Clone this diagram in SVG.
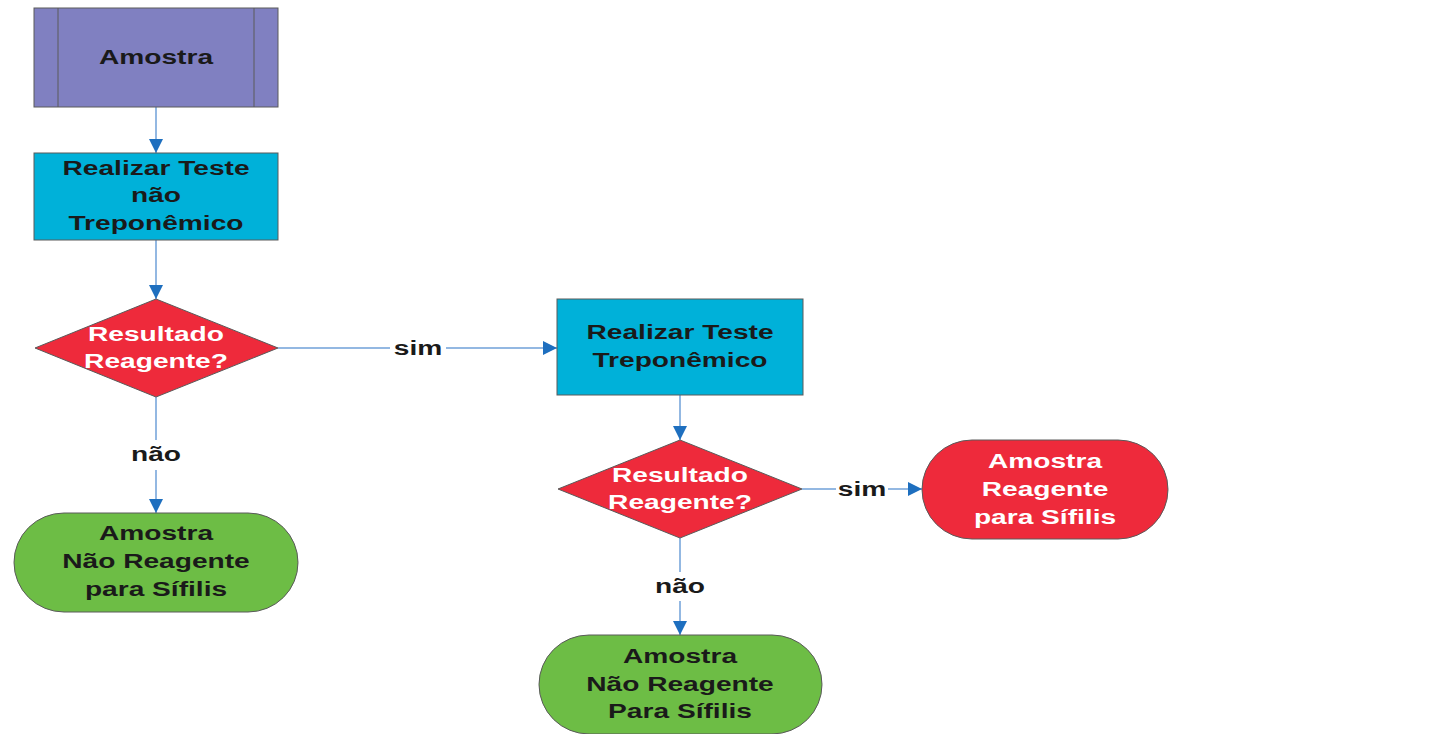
<svg xmlns="http://www.w3.org/2000/svg" width="1456" height="734" viewBox="0 0 1456 734">
  <style>
    .lbl { font-family: "Liberation Sans", Arial, sans-serif; font-weight: bold; font-size: 21px; text-anchor: middle; fill: #1a1a1a; }
    .wht { fill: #ffffff; }
    .edge { fill: none; stroke: #6fa0d8; stroke-width: 1.5; }
    .border { stroke: #5a5a5a; stroke-width: 1; }
    .proc { fill: #00b1d9; }
    .dec { fill: #ee2a3b; }
    .ok { fill: #6dbd45; }
    .bad { fill: #ee2a3b; }
  </style>
  <defs>
    <marker id="arrow" viewBox="0 0 14 14" refX="14" refY="7" markerWidth="14" markerHeight="14" markerUnits="userSpaceOnUse" orient="auto">
      <path d="M0,0 L14,7 L0,14 Z" fill="#1e6fbf"/>
    </marker>
  </defs>
  <rect width="1456" height="734" fill="#ffffff"/>

  <!-- connectors -->
  <g id="connectors">
    <line class="edge" x1="156" y1="107" x2="156" y2="153" marker-end="url(#arrow)"/>
    <line class="edge" x1="156" y1="240" x2="156" y2="299" marker-end="url(#arrow)"/>
    <line class="edge" x1="278" y1="348" x2="390" y2="348"/>
    <line class="edge" x1="446" y1="348" x2="557" y2="348" marker-end="url(#arrow)"/>
    <line class="edge" x1="156" y1="397" x2="156" y2="440"/>
    <line class="edge" x1="156" y1="470" x2="156" y2="513" marker-end="url(#arrow)"/>
    <line class="edge" x1="680" y1="395" x2="680" y2="440" marker-end="url(#arrow)"/>
    <line class="edge" x1="802" y1="489" x2="836" y2="489"/>
    <line class="edge" x1="888" y1="489" x2="922" y2="489" marker-end="url(#arrow)"/>
    <line class="edge" x1="680" y1="538" x2="680" y2="572"/>
    <line class="edge" x1="680" y1="601" x2="680" y2="635" marker-end="url(#arrow)"/>
    <text class="lbl" transform="translate(418 355) scale(1.34 1)">sim</text>
    <text class="lbl" transform="translate(156 461) scale(1.34 1)">não</text>
    <text class="lbl" transform="translate(862 496) scale(1.34 1)">sim</text>
    <text class="lbl" transform="translate(680 593) scale(1.34 1)">não</text>
  </g>

  <!-- start: sample -->
  <g id="amostra">
    <rect x="34" y="8" width="244" height="99" fill="#8080c1" class="border"/>
    <line x1="58" y1="8" x2="58" y2="107" class="border"/>
    <line x1="254" y1="8" x2="254" y2="107" class="border"/>
    <text class="lbl" transform="translate(156 64) scale(1.34 1)">Amostra</text>
  </g>

  <!-- non-treponemal test -->
  <g id="teste-nao-treponemico">
    <rect x="34" y="153" width="244" height="87" class="proc border"/>
    <text class="lbl" transform="translate(156 175) scale(1.34 1)">Realizar Teste</text>
    <text class="lbl" transform="translate(156 202) scale(1.34 1)">não</text>
    <text class="lbl" transform="translate(156 230) scale(1.34 1)">Treponêmico</text>
  </g>

  <!-- first decision -->
  <g id="decisao-1">
    <polygon points="156,299 278,348 156,397 35,348" class="dec border"/>
    <text class="lbl wht" transform="translate(156 341) scale(1.34 1)">Resultado</text>
    <text class="lbl wht" transform="translate(156 368) scale(1.34 1)">Reagente?</text>
  </g>

  <!-- non-reactive outcome (first branch) -->
  <g id="nao-reagente-1">
    <rect x="14" y="513" width="284" height="99" rx="50" ry="49.5" class="ok border"/>
    <text class="lbl" transform="translate(156 540) scale(1.34 1)">Amostra</text>
    <text class="lbl" transform="translate(156 568) scale(1.34 1)">Não Reagente</text>
    <text class="lbl" transform="translate(156 596) scale(1.34 1)">para Sífilis</text>
  </g>

  <!-- treponemal test -->
  <g id="teste-treponemico">
    <rect x="557" y="299" width="246" height="96" class="proc border"/>
    <text class="lbl" transform="translate(680 339) scale(1.34 1)">Realizar Teste</text>
    <text class="lbl" transform="translate(680 367) scale(1.34 1)">Treponêmico</text>
  </g>

  <!-- second decision -->
  <g id="decisao-2">
    <polygon points="680,440 802,489 680,538 558,489" class="dec border"/>
    <text class="lbl wht" transform="translate(680 482) scale(1.34 1)">Resultado</text>
    <text class="lbl wht" transform="translate(680 509) scale(1.34 1)">Reagente?</text>
  </g>

  <!-- reactive outcome -->
  <g id="reagente">
    <rect x="922" y="440" width="246" height="99" rx="50" ry="49.5" class="bad border"/>
    <text class="lbl wht" transform="translate(1045 468) scale(1.34 1)">Amostra</text>
    <text class="lbl wht" transform="translate(1045 496) scale(1.34 1)">Reagente</text>
    <text class="lbl wht" transform="translate(1045 524) scale(1.34 1)">para Sífilis</text>
  </g>

  <!-- non-reactive outcome (second branch) -->
  <g id="nao-reagente-2">
    <rect x="539" y="635" width="283" height="99" rx="50" ry="49.5" class="ok border"/>
    <text class="lbl" transform="translate(680 663) scale(1.34 1)">Amostra</text>
    <text class="lbl" transform="translate(680 691) scale(1.34 1)">Não Reagente</text>
    <text class="lbl" transform="translate(680 718) scale(1.34 1)">Para Sífilis</text>
  </g>
</svg>
